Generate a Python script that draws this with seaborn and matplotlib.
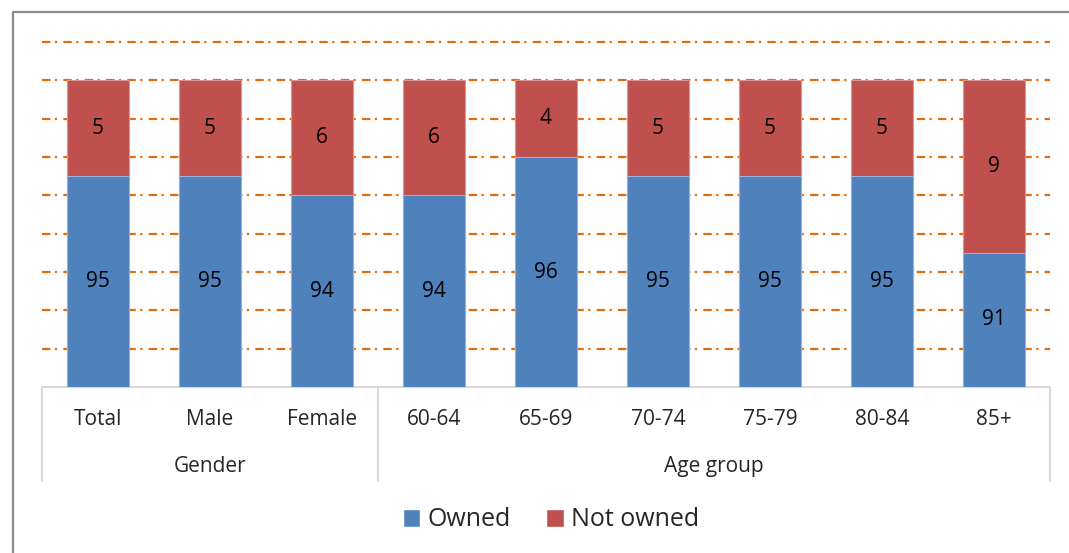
import matplotlib
matplotlib.use("Agg")
import matplotlib.pyplot as plt
import matplotlib.transforms as mtransforms
from matplotlib.lines import Line2D
from matplotlib.patches import Patch
import seaborn as sns
import pandas as pd

# Home ownership by gender and age group (%)
categories = ["Total", "Male", "Female", "60-64", "65-69", "70-74", "75-79", "80-84", "85+"]
owned = [95, 95, 94, 94, 96, 95, 95, 95, 91]
not_owned = [5, 5, 6, 6, 4, 5, 5, 5, 9]
groups = ["Gender", "Age group"]
group_sizes = [3, 6]
series = ["Owned", "Not owned"]

BLUE = "#4F81BD"
RED = "#C0504D"
GRID = "#E46C0A"
AXIS_GREY = "#D9D9D9"
FRAME_GREY = "#8C8C8C"

df = pd.DataFrame({"category": categories, "owned": owned, "not_owned": not_owned})
df["total"] = df["owned"] + df["not_owned"]

sns.set_theme(style="white")
plt.rcParams["font.family"] = ["Open Sans", "DejaVu Sans"]

W, H = 1069, 553
fig = plt.figure(figsize=(W / 100, H / 100), dpi=100)
ax = fig.add_axes([42 / W, 1 - 387 / H, (1050 - 42) / W, (387 - 42) / H])

# stacked bars: full height in red, owned share drawn over it in blue
sns.barplot(data=df, x="category", y="total", color=RED, width=0.545,
            saturation=1, errorbar=None, edgecolor="#D99694", linewidth=0.8,
            ax=ax, zorder=3)
sns.barplot(data=df, x="category", y="owned", color=BLUE, width=0.545,
            saturation=1, errorbar=None, edgecolor="#95B3D7", linewidth=0.8,
            ax=ax, zorder=4)

ax.set_ylim(84, 102)
ax.set_xlim(-0.5, len(categories) - 0.5)
ax.set_yticks(range(86, 103, 2))
ax.yaxis.grid(True, color=GRID, linewidth=1.6, linestyle=(0, (3.8, 2.0, 1.0, 2.8)))
for gl in ax.get_ygridlines():
    gl.set_clip_on(False)
ax.xaxis.grid(False)
ax.set_axisbelow(True)
ax.tick_params(axis="both", left=False, bottom=False, labelleft=False, labelbottom=False)
ax.set_xlabel("")
ax.set_ylabel("")
for side in ["left", "right", "top"]:
    ax.spines[side].set_visible(False)
ax.spines["bottom"].set_color(AXIS_GREY)
ax.spines["bottom"].set_linewidth(1.5)

# value labels centred in each segment
ymin = ax.get_ylim()[0]
for i, (o, n) in enumerate(zip(owned, not_owned)):
    ax.text(i, (ymin + o) / 2, f"{o}", ha="center", va="center", fontsize=15,
            color="black", zorder=5)
    ax.text(i, o + n / 2, f"{n}", ha="center", va="center", fontsize=15,
            color="black", zorder=5)

# two-level category axis
trans = mtransforms.blended_transform_factory(ax.transData, ax.transAxes)
for i, cat in enumerate(categories):
    ax.text(i, -0.093, cat, transform=trans, ha="center", va="center", fontsize=15)

edges = [-0.5]
for size in group_sizes:
    edges.append(edges[-1] + size)
for g, left, right in zip(groups, edges[:-1], edges[1:]):
    ax.text((left + right) / 2, -0.229, g, transform=trans, ha="center",
            va="center", fontsize=15)
for x in edges:
    ax.add_line(Line2D([x, x], [0, -0.272], transform=trans, color=AXIS_GREY,
                       linewidth=1.5, clip_on=False))

handles = [Patch(facecolor=BLUE, label=series[0]), Patch(facecolor=RED, label=series[1])]
fig.legend(handles=handles, loc="center", bbox_to_anchor=(551 / W, 1 - 520 / H),
           ncol=2, frameon=False, fontsize=18, handlelength=0.7, handleheight=0.7,
           handletextpad=0.3, columnspacing=1.4)

# outer frame of the figure panel
fig.add_artist(Line2D([13 / W, 13 / W], [0, 1 - 12 / H], transform=fig.transFigure,
                      color=FRAME_GREY, linewidth=1.6))
fig.add_artist(Line2D([13 / W, 1], [1 - 12 / H, 1 - 12 / H], transform=fig.transFigure,
                      color=FRAME_GREY, linewidth=1.6))

fig.savefig("out.png", dpi=100)
